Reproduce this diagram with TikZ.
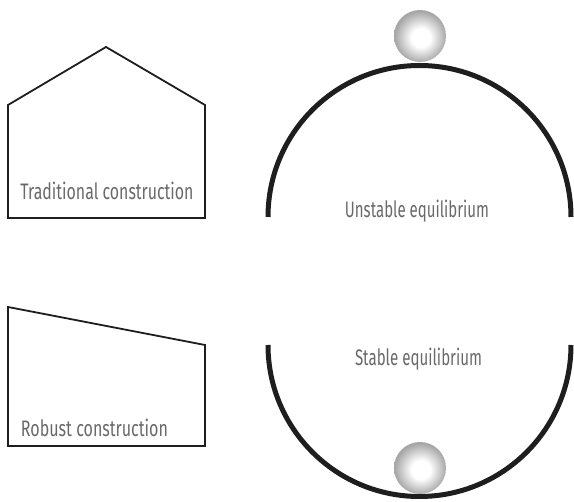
\documentclass[tikz,border=0pt]{standalone}
\usepackage{fontspec}
\setmainfont{Fira Sans}
\usepackage{graphicx}
\definecolor{labelgray}{RGB}{105,105,105}
\definecolor{linedark}{RGB}{30,30,30}
\pgfdeclareradialshading{ballshade}{\pgfpoint{1bp}{-2bp}}{color(0bp)=(white); color(9bp)=(white); color(25bp)=(gray!70); color(50bp)=(gray!70)}
\begin{document}
\begin{tikzpicture}[x=1pt,y=-1pt,
  house/.style={draw=linedark, line width=1.8pt, line join=miter},
  arcline/.style={draw=linedark, line width=5pt},
  lbl/.style={text=labelgray, inner sep=0pt, anchor=base},
  ballnode/.style={circle, minimum size=52pt, inner sep=0pt, shading=ballshade}
]
\useasboundingbox (0,0) rectangle (574,502);
% houses
\coordinate (h1a) at (8,218);
\coordinate (h1b) at (8,105);
\coordinate (h1c) at (106,47);
\coordinate (h1d) at (205,105);
\coordinate (h1e) at (205,218);
\draw[house] (h1a) -- (h1b) -- (h1c) -- (h1d) -- (h1e) -- cycle;
\coordinate (h2a) at (8,446);
\coordinate (h2b) at (8,307);
\coordinate (h2c) at (205,345);
\coordinate (h2d) at (205,446);
\draw[house] (h2a) -- (h2b) -- (h2c) -- (h2d) -- cycle;
% arcs
\coordinate (u0) at (268,217);
\coordinate (s0) at (268,345);
\draw[arcline] (u0) arc[start angle=180, end angle=360, radius=151.5];
\draw[arcline] (s0) arc[start angle=180, end angle=0, radius=151.5];
% balls
\node[ballnode] (ball1) at (420,36) {};
\node[ballnode] (ball2) at (420,468) {};
% labels
\node[lbl] (t1) at (107,200) {\resizebox{173pt}{17.5pt}{Traditional construction}};
\node[lbl] (t2) at (417,218) {\resizebox{144pt}{17.5pt}{Unstable equilibrium}};
\node[lbl] (t3) at (94.5,437) {\resizebox{147pt}{17.5pt}{Robust construction}};
\node[lbl] (t4) at (418.5,366) {\resizebox{127pt}{17.5pt}{Stable equilibrium}};
\end{tikzpicture}
\end{document}
